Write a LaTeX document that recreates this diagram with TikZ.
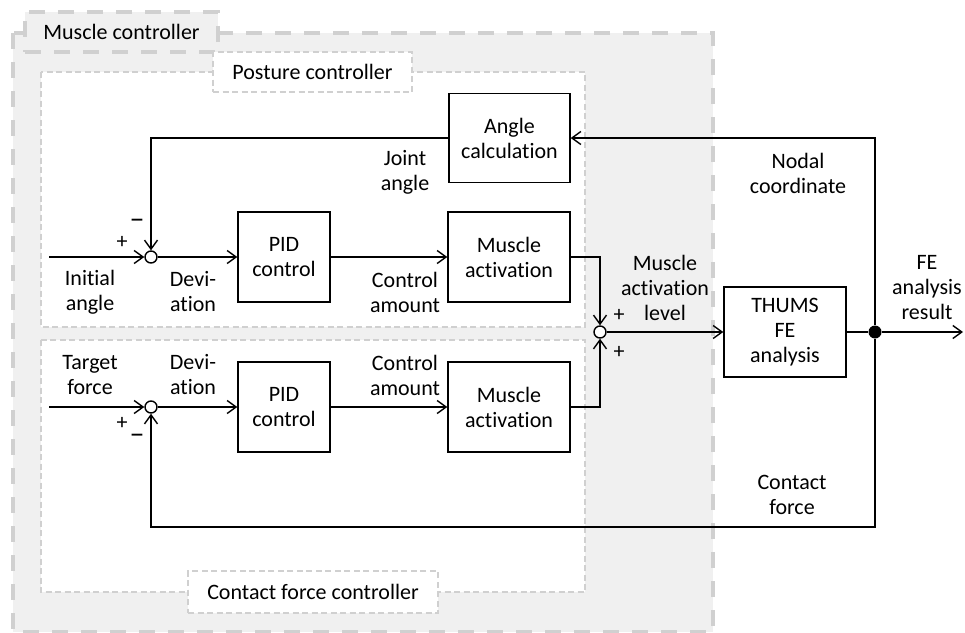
\documentclass[tikz,border=0pt]{standalone}
\usepackage{fontspec}
\setmainfont{Carlito}[Ligatures=CommonOff]
\usepackage{tikz}
\usetikzlibrary{arrows.meta}
\tikzset{>={Straight Barb[length=9pt,width=13pt]}}
\definecolor{regiongray}{HTML}{F0F0F0}
\definecolor{dashgray}{HTML}{D0D0D0}
\tikzset{
  block/.style={draw, line width=1.4pt, fill=white, align=center, inner sep=0pt},
  sumpt/.style={draw, circle, line width=1.4pt, fill=white, minimum size=12pt, inner sep=0pt},
  splitdot/.style={circle, fill=black, minimum size=13pt, inner sep=0pt},
  lbl/.style={align=center, inner sep=0pt},
  minuslbl/.style={inner sep=0pt, font=\fontsize{30}{30}\selectfont},
  outerbox/.style={draw=dashgray, line width=4pt, dash pattern=on 16pt off 13pt, fill=regiongray},
  innerbox/.style={draw=dashgray, line width=2.2pt, dash pattern=on 6pt off 3.5pt, fill=white},
}

\begin{document}
\begin{tikzpicture}[x=1pt,y=-1pt,line width=1.4pt,font=\fontsize{22}{25}\selectfont]
\useasboundingbox (0,0) rectangle (965,632);

\draw[outerbox] (13,33) rectangle (713,632);
\node[outerbox, minimum width=193pt, minimum height=40pt] (mctab) at (121.5,32) {Muscle controller};

\draw[innerbox] (41,72) rectangle (585,327);
\draw[innerbox] (41,340) rectangle (585,592);
\node[innerbox, minimum width=199pt, minimum height=40pt] (pctab) at (312.5,72) {Posture controller};
\node[innerbox, minimum width=250pt, minimum height=42pt] (cftab) at (313,592) {Contact force controller};

\node[block, minimum width=121pt, minimum height=89pt] (ang) at (509.5,138) {Angle\\calculation};
\node[block, minimum width=92pt, minimum height=90pt] (pid1) at (284,257) {PID\\control};
\node[block, minimum width=122pt, minimum height=90pt] (act1) at (509,257) {Muscle\\activation};
\node[block, minimum width=92pt, minimum height=90pt] (pid2) at (284,407) {PID\\control};
\node[block, minimum width=122pt, minimum height=90pt] (act2) at (509,407) {Muscle\\activation};
\node[block, minimum width=122pt, minimum height=90pt] (thums) at (785,332) {THUMS\\FE\\analysis};

\node[sumpt] (s1) at (151,257) {};
\node[sumpt] (s2) at (151,407) {};
\node[sumpt] (s3) at (600,332) {};
\node[splitdot] (split) at (875,332) {};

\coordinate (in1) at (49,257);
\coordinate (in2) at (49,407);
\coordinate (out) at (963,332);
\coordinate (cf) at (875,527);

\draw[->] (in1) -- (s1);
\draw[->] (s1) -- (pid1);
\draw[->] (pid1) -- (act1);
\draw[->] (in2) -- (s2);
\draw[->] (s2) -- (pid2);
\draw[->] (pid2) -- (act2);
\draw[->] (act1) -| (s3);
\draw[->] (act2) -| (s3);
\draw[->] (s3) -- (thums);
\draw (thums) -- (split);
\draw[->] (split) -- (out);
\draw[->] (split) |- (ang);
\draw[->] (ang) -| (s1);
\draw[->] (split) -- (cf) -| (s2);

\node[lbl] (l1) at (90,292) {Initial\\angle};
\node[lbl] (l2) at (193,292) {Devi-\\ation};
\node[lbl] (l3) at (405,292) {Control\\amount};
\node[lbl] (l4) at (405,172) {Joint\\angle};
\node[lbl] (l5) at (798,173) {Nodal\\coordinate};
\node[lbl] (l6) at (665,288) {Muscle\\activation\\level};
\node[lbl] (l7) at (927,288) {FE\\analysis\\result};
\node[lbl] (l8) at (90,375) {Target\\force};
\node[lbl] (l9) at (193,375) {Devi-\\ation};
\node[lbl] (l10) at (405,375) {Control\\amount};
\node[lbl] (l11) at (792,495) {Contact\\force};

\node[lbl] (p1) at (122,242) {+};
\node[minuslbl] (m1) at (137,224) {–};
\node[lbl] (p2) at (122,423) {+};
\node[minuslbl] (m2) at (137,439) {–};
\node[lbl] (p3) at (619,315) {+};
\node[lbl] (p4) at (619,352) {+};
\end{tikzpicture}
\end{document}
